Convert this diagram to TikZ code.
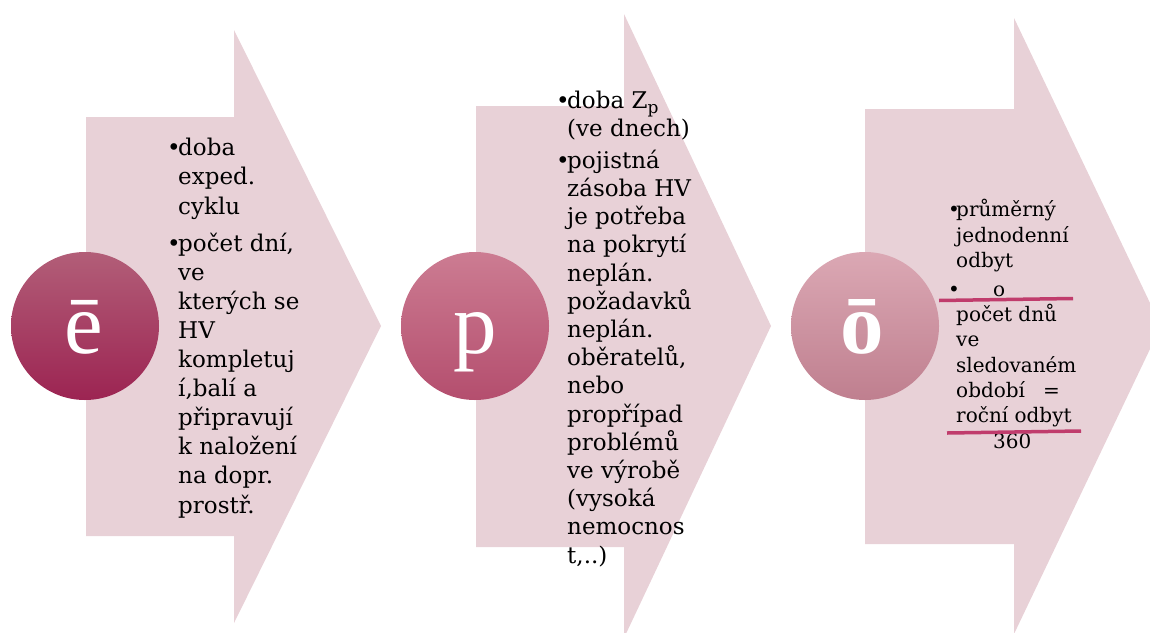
\documentclass[tikz,border=0pt]{standalone}
\usepackage{fontspec}
\setmainfont{DejaVu Serif}
\newfontfamily\circfont{Liberation Serif}
\definecolor{arrowfill}{HTML}{E8D1D7}
\definecolor{cOneTop}{HTML}{B25E78}
\definecolor{cOneBot}{HTML}{9C2452}
\definecolor{cTwoTop}{HTML}{CC7C92}
\definecolor{cTwoBot}{HTML}{B44E6E}
\definecolor{cThrTop}{HTML}{DBA8B4}
\definecolor{cThrBot}{HTML}{BF7F8F}
\definecolor{fracline}{HTML}{C03C6C}
\newcommand{\bA}{\makebox[11pt][l]{•}}
\newcommand{\iA}{\hspace*{11pt}}
\newcommand{\bC}{\makebox[8pt][l]{•}}
\newcommand{\iC}{\hspace*{8pt}}
\begin{document}
\begin{tikzpicture}[x=1pt,y=-1pt,
  arrowshape/.style={fill=arrowfill, draw=none},
  disc/.style={circle, minimum size=148pt, inner sep=0pt, draw=none},
  letter/.style={anchor=base, inner sep=0pt, text=white},
  txtA/.style={anchor=base west, align=left, inner sep=0pt, text=black, font=\fontsize{23}{29.1}\selectfont},
  txtB/.style={anchor=base west, align=left, inner sep=0pt, text=black, font=\fontsize{23}{28.2}\selectfont},
  txtC/.style={anchor=base west, align=left, inner sep=0pt, text=black, font=\fontsize{20}{25.3}\selectfont},
  frac/.style={draw=fracline, line width=3.5pt}]
\useasboundingbox (0,0) rectangle (1150,632);
\clip (0,0) rectangle (1150,632);
% arrows
\fill[arrowshape] (86,117) -- (234,117) -- (234,30) -- (381,326) -- (234,623) -- (234,536) -- (86,536) -- cycle;
\fill[arrowshape] (476,106) -- (624,106) -- (624,14) -- (771,326) -- (624,638) -- (624,547) -- (476,547) -- cycle;
\fill[arrowshape] (865,109) -- (1014,109) -- (1014,18) -- (1161,326) -- (1014,634) -- (1014,544) -- (865,544) -- cycle;
% circles
\node[disc, top color=cOneTop, bottom color=cOneBot] (c1) at (85,326) {};
\node[disc, top color=cTwoTop, bottom color=cTwoBot] (c2) at (475,326) {};
\node[disc, top color=cThrTop, bottom color=cThrBot] (c3) at (865,326) {};
\node[letter, font=\circfont\fontsize{87}{87}\selectfont] (l1) at (84,353) {ē};
\node[letter, font=\circfont\fontsize{87}{87}\selectfont] (l2) at (475,353) {p};
\node[letter, font=\circfont\bfseries\fontsize{87}{87}\selectfont] (l3) at (862,353) {ō};
% texts (anchor = baseline of the last line)
\node[txtA] (t1) at (167,513) {\bA doba\\ \iA exped.\\ \iA cyklu\\[8pt]
\bA počet dní,\\ \iA ve\\ \iA kterých se\\ \iA HV\\ \iA kompletuj\\ \iA í,balí a\\ \iA připravují\\ \iA k naložení\\ \iA na dopr.\\ \iA prostř.};
\node[txtB] (t2) at (556,563) {\bA doba Z\raisebox{-5pt}{\fontsize{17}{17}\selectfont p}\\ \iA (ve dnech)\\[3.8pt]
\bA pojistná\\ \iA zásoba HV\\ \iA je potřeba\\ \iA na pokrytí\\ \iA neplán.\\ \iA požadavků\\ \iA neplán.\\ \iA oběratelů,\\ \iA nebo\\ \iA propřípad\\ \iA problémů\\ \iA ve výrobě\\ \iA (vysoká\\ \iA nemocnos\\ \iA t,..)};
\node[txtC] (t3) at (948,448) {\bC průměrný\\ \iC jednodenní\\ \iC odbyt\\[3.5pt]
\bC \hspace*{37pt}o\\ \iC počet dnů\\ \iC ve\\ \iC sledovaném\\ \iC období\hspace*{18pt}=\\ \iC roční odbyt\\ \iC\hspace*{37pt}360};
% fraction lines
\draw[frac] (939,300.5) -- (1073,298.5);
\draw[frac] (947,433) -- (1081,431);
\end{tikzpicture}
\end{document}
